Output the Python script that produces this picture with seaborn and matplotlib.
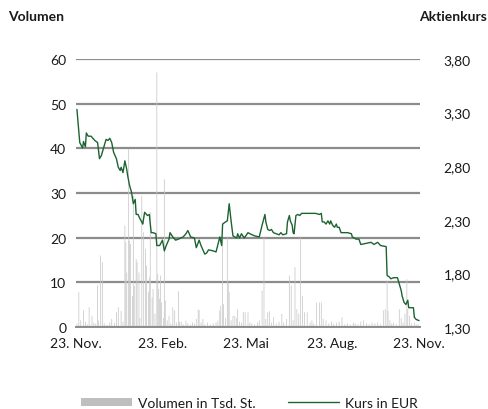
import numpy as np
import pandas as pd
import matplotlib
matplotlib.use("Agg")
import matplotlib.pyplot as plt
import seaborn as sns
from matplotlib.patches import Patch
from matplotlib.lines import Line2D

# ---- data (days since 23 Nov 2022) ----
price_days = [1, 4, 7, 8, 10, 11, 13, 16, 18, 20, 23, 25, 27, 29, 32, 34, 36, 38, 40, 43,
              45, 47, 48, 50, 52, 54, 55, 57, 59, 61, 63, 64, 66, 68, 70, 71, 73, 76, 78, 80,
              82, 85, 86, 89, 92, 94, 96, 99, 100, 103, 106, 109, 114, 117, 119, 122, 126, 128, 131, 133,
              137, 139, 141, 146, 149, 151, 153, 155, 156, 159, 161, 163, 165, 167, 171, 172, 174, 176, 179, 183,
              185, 190, 195, 198, 201, 202, 204, 206, 208, 210, 213, 216, 218, 220, 224, 225, 227, 228, 230, 231,
              232, 234, 236, 238, 240, 245, 250, 255, 259, 261, 262, 264, 266, 268, 270, 271, 273, 275, 277, 278,
              280, 282, 285, 289, 293, 294, 298, 301, 303, 314, 317, 321, 324, 330, 331, 333, 335, 338, 342, 344,
              346, 347, 349, 351, 353, 354, 356, 359, 360, 362, 365]
price_eur = [3.33, 3.02, 2.97, 3.03, 2.98, 3.11, 3.08, 3.08, 3.06, 3.04, 3.02, 2.87, 2.90, 2.96, 3.05, 3.04, 3.06, 3.02, 2.93, 2.87,
             2.79, 2.76, 2.79, 2.74, 2.85, 2.77, 2.71, 2.62, 2.56, 2.45, 2.49, 2.35, 2.35, 2.31, 2.28, 2.26, 2.37, 2.34, 2.35, 2.18,
             2.18, 2.17, 2.06, 2.06, 2.11, 2.01, 2.06, 2.12, 2.18, 2.14, 2.11, 2.12, 2.14, 2.17, 2.20, 2.14, 2.13, 2.04, 2.11, 2.06,
             1.98, 1.99, 2.02, 2.01, 2.00, 2.07, 2.14, 2.06, 2.26, 2.28, 2.29, 2.45, 2.29, 2.15, 2.13, 2.17, 2.13, 2.17, 2.13, 2.18,
             2.17, 2.15, 2.14, 2.25, 2.35, 2.28, 2.21, 2.20, 2.21, 2.18, 2.17, 2.16, 2.18, 2.16, 2.17, 2.28, 2.34, 2.29, 2.25, 2.18,
             2.17, 2.34, 2.35, 2.34, 2.36, 2.36, 2.36, 2.36, 2.35, 2.36, 2.28, 2.28, 2.26, 2.29, 2.26, 2.29, 2.25, 2.23, 2.26, 2.23,
             2.23, 2.18, 2.18, 2.18, 2.17, 2.14, 2.12, 2.12, 2.07, 2.09, 2.07, 2.09, 2.06, 2.05, 1.78, 1.77, 1.75, 1.76, 1.76, 1.70,
             1.64, 1.59, 1.53, 1.51, 1.55, 1.48, 1.48, 1.48, 1.39, 1.37, 1.36]

vol_days = [1, 3, 5, 8, 10, 12, 14, 17, 19, 21, 23, 24, 26, 28, 30, 33, 36, 38, 41, 43,
            45, 48, 50, 52, 53, 54, 56, 57, 58, 60, 61, 62, 64, 65, 67, 68, 70, 72, 74, 75,
            77, 78, 79, 81, 82, 84, 86, 87, 88, 89, 90, 91, 93, 94, 95, 97, 99, 101, 103, 105,
            107, 109, 110, 112, 114, 117, 119, 122, 124, 126, 128, 130, 131, 133, 135, 137, 140, 143, 146, 149,
            151, 153, 154, 156, 157, 159, 161, 162, 163, 165, 167, 169, 171, 172, 174, 176, 178, 180, 183, 185,
            187, 190, 193, 195, 198, 200, 202, 204, 206, 208, 210, 213, 216, 219, 221, 224, 227, 229, 231, 233,
            235, 237, 239, 241, 243, 246, 249, 251, 253, 256, 259, 261, 263, 266, 269, 272, 274, 277, 280, 283,
            286, 289, 292, 295, 297, 300, 303, 306, 309, 312, 315, 318, 321, 324, 327, 329, 331, 332, 334, 336,
            338, 341, 344, 346, 348, 350, 352, 353, 355, 357, 360, 362, 364]
vol_tsd = [0.8, 7.8, 1.5, 3.7, 1.2, 0.6, 4.4, 2.5, 1.0, 0.7, 9.3, 1.4, 16.0, 14.5, 0.8, 0.5, 1.0, 1.8, 0.9, 3.3,
           4.4, 3.6, 1.2, 22.7, 19.0, 12.2, 39.8, 19.3, 18.6, 7.0, 29.4, 9.2, 15.2, 14.5, 12.2, 2.0, 29.4, 21.2, 17.5, 13.7,
           7.8, 11.1, 25.7, 6.6, 8.5, 3.0, 57.0, 11.9, 8.5, 6.3, 11.5, 5.5, 2.0, 33.1, 5.9, 1.5, 2.5, 0.8, 4.4, 3.7,
           1.0, 8.0, 1.2, 1.2, 0.6, 1.4, 0.8, 0.5, 1.0, 0.7, 1.8, 3.9, 3.8, 1.0, 1.8, 0.6, 1.0, 0.5, 0.8, 1.0,
           1.4, 3.7, 4.8, 20.0, 5.1, 2.0, 20.0, 10.0, 7.8, 1.5, 2.5, 2.5, 2.0, 4.0, 1.2, 1.0, 3.4, 3.3, 3.3, 1.0,
           0.8, 0.6, 1.0, 1.5, 8.1, 20.0, 1.8, 3.3, 3.5, 1.0, 2.2, 0.8, 1.2, 2.9, 1.0, 1.8, 11.5, 9.3, 1.5, 13.4,
           4.0, 3.0, 20.0, 7.0, 3.3, 3.3, 1.0, 1.5, 0.8, 5.5, 5.5, 5.5, 1.8, 1.5, 0.8, 1.2, 0.6, 1.0, 1.2, 2.2,
           0.6, 0.8, 0.5, 1.0, 0.8, 0.6, 1.2, 1.5, 0.8, 0.6, 1.0, 0.8, 1.0, 0.6, 3.7, 4.0, 10.4, 3.6, 1.5, 0.8,
           1.0, 0.6, 4.0, 2.0, 1.0, 3.0, 10.7, 4.0, 2.5, 0.8, 1.0, 0.5, 0.6]

tick_days = [0, 92, 181, 273, 365]
tick_labels = ["23. Nov.", "23. Feb.", "23. Mai", "23. Aug.", "23. Nov."]
vol_ticks = [0, 10, 20, 30, 40, 50, 60]
price_ticks = [1.30, 1.80, 2.30, 2.80, 3.30, 3.80]

# ---- style ----
sns.set_style("white")
plt.rcParams["font.family"] = ["Lato", "DejaVu Sans"]
plt.rcParams["font.size"] = 10

GRID = "#8c8c8c"
GREEN = "#1d6331"
BAR = "#c8c8c8"
TXT = "#1a1a1a"

fig = plt.figure(figsize=(4.88, 4.10), dpi=100)
ax = fig.add_axes([76 / 488, 1 - 328 / 410, (420 - 76) / 488, (328 - 60) / 410])

vol_df = pd.DataFrame({"day": vol_days, "vol": vol_tsd})
price_df = pd.DataFrame({"day": price_days, "price": price_eur})

sns.histplot(data=vol_df, x="day", weights="vol", discrete=True, shrink=0.8,
             color=BAR, edgecolor="none", linewidth=0, alpha=1, ax=ax)
for p in ax.patches:
    p.set_snap(False)
ax.set_xlim(0, 366)
ax.set_ylim(0, 60)
ax.set_yticks(vol_ticks)
ax.set_yticklabels([str(v) for v in vol_ticks])
ax.set_xticks(tick_days)
ax.set_xticklabels(tick_labels)
ax.set_xlabel("")
ax.set_ylabel("")
ax.set_axisbelow(True)
ax.yaxis.grid(True, color=GRID, linewidth=1.6)
ax.xaxis.grid(False)
for s in ["left", "right", "top"]:
    ax.spines[s].set_visible(False)
ax.spines["bottom"].set_color(GRID)
ax.spines["bottom"].set_linewidth(1.4)
ax.tick_params(axis="y", length=0, pad=7, labelsize=10, labelcolor=TXT)
ax.tick_params(axis="x", length=3.5, width=1.2, color=GRID, pad=4, labelsize=10, labelcolor=TXT)

ax2 = ax.twinx()
sns.lineplot(data=price_df, x="day", y="price", color=GREEN, linewidth=1.0, ax=ax2)
ax2.set_ylim(1.30, 3.80)
ax2.set_xlim(0, 366)
ax2.set_yticks(price_ticks)
ax2.set_yticklabels([f"{p:.2f}".replace(".", ",") for p in price_ticks])
ax2.set_ylabel("")
ax2.set_xlabel("")
ax2.grid(False)
for s in ["left", "right", "top", "bottom"]:
    ax2.spines[s].set_visible(False)
ax2.tick_params(axis="y", length=0, pad=17, labelsize=10, labelcolor=TXT)

fig.text(8 / 488, 1 - 17 / 410, "Volumen", fontweight="bold", fontsize=10,
         ha="left", va="center", color=TXT)
fig.text(487 / 488, 1 - 17 / 410, "Aktienkurs", fontweight="bold", fontsize=10,
         ha="right", va="center", color=TXT)

handles = [Patch(facecolor="#bfbfbf", edgecolor="none"),
           Line2D([0], [0], color=GREEN, linewidth=1.0)]
fig.legend(handles, ["Volumen in Tsd. St.", "Kurs in EUR"], loc="center",
           bbox_to_anchor=(0.511, 1 - 404 / 410), ncol=2, frameon=False,
           handlelength=3.7, handleheight=0.55, handletextpad=0.45,
           columnspacing=2.3, fontsize=10, labelcolor=TXT)

fig.savefig("out.png", dpi=100)
